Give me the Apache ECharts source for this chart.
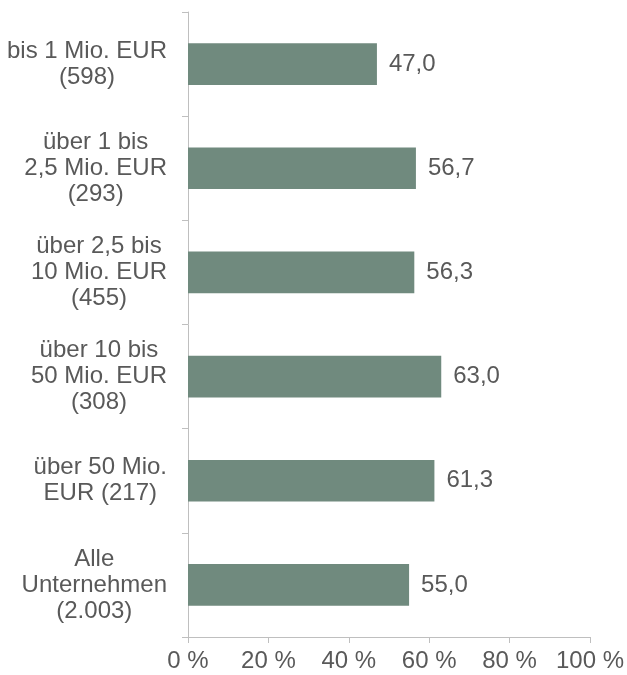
<!DOCTYPE html>
<html>
<head>
<meta charset="utf-8">
<script src="https://cdn.jsdelivr.net/npm/echarts@6/dist/echarts.min.js"></script>
<style>
  html, body { margin: 0; padding: 0; background: #fff; }
  #chart { width: 627px; height: 675px; }
</style>
</head>
<body>
<div id="chart"></div>
<script>
var categories = [
  'bis 1 Mio. EUR\n(598)',
  'über 1 bis\n2,5 Mio. EUR\n(293)',
  'über 2,5 bis\n10 Mio. EUR\n(455)',
  'über 10 bis\n50 Mio. EUR\n(308)',
  'über 50 Mio.\nEUR (217)',
  'Alle\nUnternehmen\n(2.003)'
]
var values = [47.0, 56.7, 56.3, 63.0, 61.3, 55.0]

var textColor = '#595959'
var axisColor = '#bfbfbf'
var fontFamily = 'Liberation Sans, Arial, sans-serif'

var chart = echarts.init(document.getElementById('chart'))

chart.setOption({
  animation: false,
  grid: {
    left: 188,
    right: 36,
    top: 12,
    bottom: 38,
    containLabel: false
  },
  xAxis: {
    type: 'value',
    min: 0,
    max: 100,
    interval: 20,
    splitLine: { show: false },
    axisLine: { show: true, lineStyle: { color: axisColor, width: 1 } },
    axisTick: { show: true, length: 6, lineStyle: { color: axisColor } },
    axisLabel: {
      color: textColor,
      fontSize: 24,
      fontFamily: fontFamily,
      margin: 12,
      formatter: v => v + ' %'
    }
  },
  yAxis: {
    type: 'category',
    inverse: true,
    data: categories,
    axisLine: { show: true, lineStyle: { color: axisColor, width: 1 } },
    axisTick: { show: true, length: 6, lineStyle: { color: axisColor } },
    axisLabel: {
      align: 'right',
      margin: 21,
      // block is right-aligned to the axis, lines centred inside it
      formatter: v => v.split('\n').map(s => '{c|' + s + '}').join('\n'),
      rich: {
        c: {
          align: 'center',
          color: textColor,
          fontSize: 24,
          fontFamily: fontFamily,
          lineHeight: 26
        }
      }
    }
  },
  series: [
    {
      type: 'bar',
      data: values,
      barCategoryGap: '60%',
      itemStyle: { color: '#708a7e' },
      label: {
        show: true,
        position: 'right',
        distance: 12,
        color: textColor,
        fontSize: 24,
        fontFamily: fontFamily,
        formatter: p => p.value.toFixed(1).replace('.', ',')
      }
    }
  ]
})
</script>
</body>
</html>
